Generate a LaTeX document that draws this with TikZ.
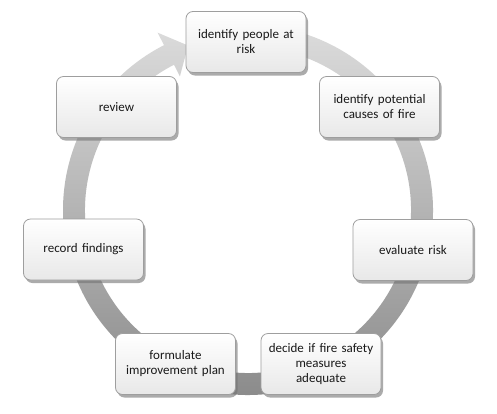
\documentclass[tikz,border=0pt]{standalone}
\usepackage{fontspec}
\setmainfont{Carlito}
\usetikzlibrary{shadows}
\newlength{\du}
\setlength{\du}{1pt}
\definecolor{ringlight}{rgb}{0.870000, 0.870000, 0.870000}
\definecolor{ringdark}{rgb}{0.540000, 0.540000, 0.540000}
\definecolor{boxline}{rgb}{0.620000, 0.620000, 0.620000}
\definecolor{boxtext}{rgb}{0.100000, 0.100000, 0.100000}
\tikzset{
  stepbox/.style={rounded corners=7\du, draw=boxline, line width=0.8\du,
    top color=white, bottom color=black!9,
    minimum width=120\du, minimum height=61\du, text width=116\du,
    align=center, inner sep=0pt, text=boxtext,
    font=\fontsize{13}{15}\selectfont,
    drop shadow={shadow xshift=2\du, shadow yshift=-3\du, fill=black!55, opacity=0.6}},
}
\begin{document}
\begin{tikzpicture}
\pgftransformxscale{1.000000}
\pgftransformyscale{-1.000000}
\useasboundingbox (0\du,0\du) rectangle (497\du,413\du);
\fill[white] (0\du,0\du) rectangle (497\du,413\du);
% ring with arrow head
\shade[top color=ringlight, bottom color=ringdark]
  ([shift={(248\du,210\du)}]-95:185\du) arc[start angle=-95, end angle=243, radius=185\du]
  -- ([shift={(248\du,210\du)}]243:199\du) -- ([shift={(248\du,210\du)}]250:175\du)
  -- ([shift={(248\du,210\du)}]243:150\du) -- ([shift={(248\du,210\du)}]243:163\du)
  arc[start angle=243, end angle=-95, radius=163\du] -- cycle;
% setfont left to latex
\node[stepbox] (risk) at (246.000000\du,42.000000\du){identify people at\\risk};
\node[stepbox] (causes) at (379.500000\du,107.000000\du){identify potential\\causes of fire};
\node[stepbox] (evaluate) at (413.000000\du,250.000000\du){evaluate risk};
\node[stepbox] (decide) at (321.000000\du,364.000000\du){decide if fire safety\\measures\\adequate};
\node[stepbox] (formulate) at (175.500000\du,364.000000\du){formulate\\improvement plan};
\node[stepbox] (record) at (83.500000\du,249.500000\du){record findings};
\node[stepbox] (review) at (116.500000\du,107.000000\du){review};
\end{tikzpicture}
\end{document}
